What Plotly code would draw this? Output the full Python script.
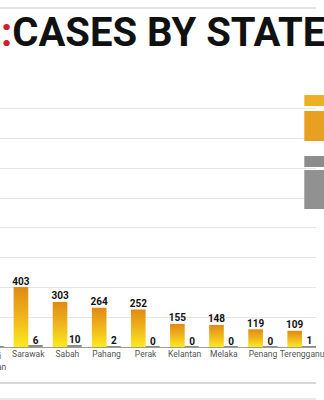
import plotly.graph_objects as go

# ---- data ----
tick_labels = ["Negeri<br>Sembilan", "Sarawak", "Sabah", "Pahang", "Perak",
               "Kelantan", "Melaka", "Penang", "Terengganu"]
local_cases = [None, 403, 303, 264, 252, 155, 148, 119, 109]
imported_cases = [3, 6, 10, 2, 0, 0, 0, 0, 1]
title_text = "CASES BY STATE"

GOLD_SCALE = [[0, "#FBEA1E"], [0.5, "#F0B51C"], [1, "#E08A14"]]
GRAY = "#8E8E8E"
BW = 0.375
XR = [0.277, 8.357]

W, H = 324, 400
T, B = 79, 53
PH = H - T - B


def py(p):
    """pixel row -> paper y"""
    return (H - B - p) / PH


def px_paper(xv):
    """data x -> paper x"""
    return (xv - XR[0]) / (XR[1] - XR[0])


fig = go.Figure()
idx = list(range(len(tick_labels)))

# gold (gradient) bars
for i, v in zip(idx, local_cases):
    if v is None:
        continue
    fig.add_trace(go.Scatter(
        x=[i - BW, i - BW, i, i, i - BW], y=[0, v, v, 0, 0],
        mode="lines", line=dict(width=0), fill="toself",
        fillgradient=dict(type="vertical", colorscale=GOLD_SCALE, start=0, stop=v),
        hoverinfo="skip", showlegend=False))

# gray bars
fig.add_trace(go.Bar(x=idx, y=imported_cases, width=BW, offset=0,
                     marker=dict(color=GRAY, line=dict(color=GRAY, width=1)),
                     showlegend=False, hoverinfo="skip"))

# value labels (only those whose anchor lies inside the visible range)
lx, ly, lt = [], [], []
for i, v in zip(idx, local_cases):
    if v is not None and XR[0] < i - BW / 2 < XR[1]:
        lx.append(i - BW / 2); ly.append(v); lt.append(str(v))
for i, v in zip(idx, imported_cases):
    if XR[0] < i + BW / 2 < XR[1] + 0.2:
        lx.append(i + BW / 2); ly.append(v); lt.append(str(v))
fig.add_trace(go.Scatter(x=lx, y=ly, text=lt, mode="text", textposition="top center",
                         textfont=dict(family="Roboto", size=10, color="#111", weight="bold"),
                         hoverinfo="skip", showlegend=False, cliponaxis=False))

vis = [i for i in idx if XR[0] <= i <= XR[1]]
fig.update_layout(
    width=W, height=H, margin=dict(l=0, r=0, t=T, b=B),
    paper_bgcolor="white", plot_bgcolor="white",
    bargap=0,
    xaxis=dict(range=XR, tickvals=vis, ticktext=[tick_labels[i] for i in vis],
               showgrid=False, zeroline=False, ticks="", showline=False,
               ticklabeloverflow="allow",
               tickfont=dict(family="Roboto", size=8.5, color="#555")),
    yaxis=dict(range=[0, 1800], dtick=200, showticklabels=False,
               showgrid=True, gridcolor="#E6E6E6", gridwidth=1,
               zeroline=True, zerolinecolor="#9A9A9A", zerolinewidth=1),
    font=dict(family="Roboto"),
)

# cropped tick label on the left edge
for i in idx:
    if i < XR[0]:
        fig.add_annotation(x=px_paper(i), xref="paper", yref="paper", y=py(349),
                           yanchor="top", xanchor="center",
                           text=tick_labels[i], showarrow=False,
                           font=dict(family="Roboto", size=8.5, color="#555"))

# title
fig.add_annotation(xref="paper", yref="paper", x=-0.003, y=py(32), xanchor="left",
                   yanchor="middle", showarrow=False,
                   text="<span style='color:#D0202A'>:</span>" + title_text,
                   font=dict(family="Roboto", size=40, color="#111", weight="bold"))

# separator lines
for p, c in [(8, "#C8C8C8"), (383, "#B0B0B0"), (399, "#D0D0D0")]:
    fig.add_shape(type="line", xref="paper", yref="paper", x0=0, x1=1,
                  y0=py(p), y1=py(p), line=dict(color=c, width=1))

# legend swatches (cropped at right edge)
for (a, b_, c) in [(95, 106, "#EDB024"), (111, 141, "#E8A020"),
                   (156, 167, "#8C8C8C"), (170, 209, "#919191")]:
    fig.add_shape(type="rect", xref="paper", yref="paper", x0=312 / W, x1=1.05,
                  y0=py(b_), y1=py(a), line=dict(width=0), fillcolor=c)

fig.write_html("out.html")
